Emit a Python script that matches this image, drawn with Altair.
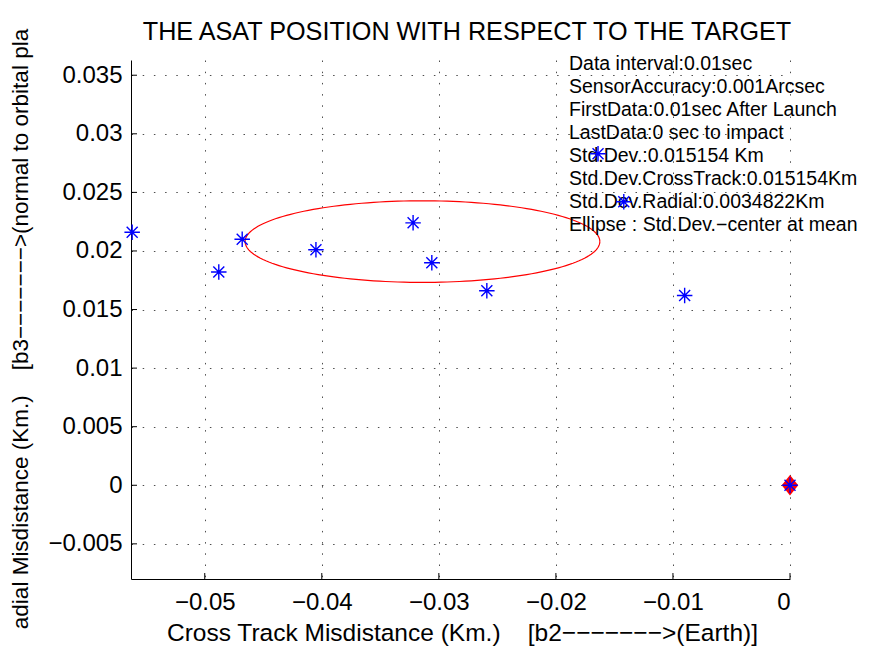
import altair as alt
import pandas as pd

# ---- data ----
cross_track = [-0.0562, -0.0488, -0.0468, -0.0405, -0.0322, -0.0306, -0.0259,
               -0.0090, -0.0164, -0.0142, 0.0]
radial = [0.0216, 0.0182, 0.0210, 0.0201, 0.0224, 0.0190, 0.0166,
          0.0162, 0.0283, 0.0242, 0.0]
target_x = [0.0]
target_y = [0.0]
ellipse_cx = -0.0314
ellipse_cy = 0.0208
std_cross = 0.015154
std_radial = 0.0034822
x_ticks = [-0.05, -0.04, -0.03, -0.02, -0.01, 0.0]
y_ticks = [-0.005, 0.0, 0.005, 0.01, 0.015, 0.02, 0.025, 0.03, 0.035]
x_domain = [-0.0563, 0.0]
y_domain = [-0.008, 0.0363]
info_lines = [
    "Data interval:0.01sec",
    "SensorAccuracy:0.001Arcsec",
    "FirstData:0.01sec After Launch",
    "LastData:0 sec to impact",
    "Std.Dev.:0.015154 Km",
    "Std.Dev.CrossTrack:0.015154Km",
    "Std.Dev.Radial:0.0034822Km",
    "Ellipse : Std.Dev.\u2212center at mean",
]
SP = "\u00a0\u00a0\u00a0\u00a0"
DASH = "\u2212" * 7
title_text = "THE ASAT POSITION WITH RESPECT TO THE TARGET"
x_title = "Cross Track Misdistance (Km.)" + SP + "[b2" + DASH + ">(Earth)]"
y_title = "adial Misdistance (Km.)" + SP + "[b3" + DASH + ">(normal to orbital pla"

W, H = 659, 519
FONT = "Liberation Sans"

pts = pd.DataFrame({"x": cross_track, "y": radial})
tgt = pd.DataFrame({"x": target_x, "y": target_y})
xt = pd.DataFrame({"v": x_ticks})
yt = pd.DataFrame({"v": y_ticks})
one = pd.DataFrame({"a": [0]})

xs = alt.Scale(domain=x_domain, nice=False, zero=False)
ys = alt.Scale(domain=y_domain, nice=False, zero=False)

x_axis = alt.Axis(values=x_ticks, format="~g", title=x_title, grid=True,
                  ticks=False, labelPadding=11, titleY=61, titleX=331,
                  titleBaseline="alphabetic", titleFontSize=24.5)
y_axis = alt.Axis(values=y_ticks, format="~g", title=None, grid=True,
                  ticks=False, labelPadding=9)

ASTER = "M-1,0L1,0M0,-1L0,1M-0.71,-0.71L0.71,0.71M-0.71,0.71L0.71,-0.71"
DIAM = "M0,-1L0.8,0L0,1L-0.8,0Z"

base = alt.Chart(pts).mark_point(opacity=0).encode(
    x=alt.X("x:Q", scale=xs, axis=x_axis),
    y=alt.Y("y:Q", scale=ys, axis=y_axis),
)

xticks = alt.Chart(xt).mark_rule(color="black", strokeWidth=1).encode(
    x=alt.X("v:Q", scale=xs), y=alt.value(H), y2=alt.value(H - 6))
yticks = alt.Chart(yt).mark_rule(color="black", strokeWidth=1).encode(
    y=alt.Y("v:Q", scale=ys), x=alt.value(0), x2=alt.value(6))

ellipse = alt.Chart(alt.sequence(0, 362, 2, as_="t")).transform_calculate(
    ex=f"{ellipse_cx} + {std_cross} * cos(datum.t * PI / 180)",
    ey=f"{ellipse_cy} + {std_radial} * sin(datum.t * PI / 180)",
).mark_line(color="#ff0000", strokeWidth=1.2).encode(
    x=alt.X("ex:Q", scale=xs), y=alt.Y("ey:Q", scale=ys), order="t:Q")

info = alt.Chart(one).mark_text(
    text=info_lines, align="left", baseline="top", lineHeight=23,
    fontSize=19.5, font=FONT, color="black",
).encode(x=alt.value(438), y=alt.value(-5))

title = alt.Chart(one).mark_text(
    text=title_text, align="center", baseline="alphabetic", fontSize=25.2,
    font=FONT, color="black",
).encode(x=alt.value(336), y=alt.value(-20))

ytitle = alt.Chart(one).mark_text(
    text=y_title, align="center", baseline="middle", fontSize=22.5,
    font=FONT, color="black", angle=270,
).encode(x=alt.value(-110), y=alt.value(269))

diamond = alt.Chart(tgt).mark_point(shape=DIAM, filled=True, color="#ff0000",
                                    size=428, opacity=1).encode(
    x=alt.X("x:Q", scale=xs), y=alt.Y("y:Q", scale=ys))

stars = alt.Chart(pts).mark_point(shape=ASTER, filled=False, color="#0000ff",
                                  size=240, strokeWidth=1.4, opacity=1).encode(
    x=alt.X("x:Q", scale=xs), y=alt.Y("y:Q", scale=ys))

chart = alt.layer(base, xticks, yticks, ellipse, title, ytitle, info,
                  diamond, stars).properties(
    width=W, height=H,
    autosize=alt.AutoSizeParams(type="none"),
    padding={"left": 123, "top": 52, "right": 72, "bottom": 71},
).configure_view(stroke=None).configure_axis(
    domainColor="black", domainWidth=1, labelFont=FONT, titleFont=FONT,
    labelFontSize=24, labelColor="black", titleColor="black",
    titleFontWeight="normal", gridColor="#222", gridDash=[1.5, 9.7],
    gridWidth=1, gridOpacity=0.8,
)

chart.save("out.html", embed_options={"renderer": "svg", "actions": False})
